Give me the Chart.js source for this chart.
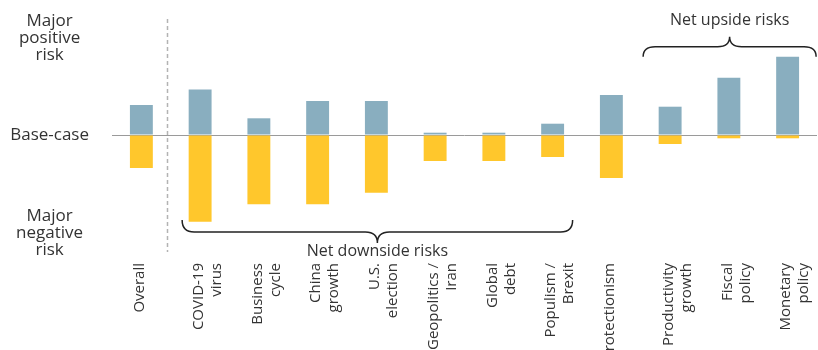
<!DOCTYPE html>
<html>
<head>
<meta charset="utf-8">
<script src="https://cdn.jsdelivr.net/npm/chart.js@4/dist/chart.umd.min.js"></script>
<style>
  html, body { margin: 0; padding: 0; background: #ffffff; }
  #wrap { width: 818px; height: 350px; position: relative; }
</style>
</head>
<body>
<div id="wrap"><canvas id="c" width="818" height="350"></canvas></div>
<script>
const categories = [
  "Overall",
  ["COVID-19", "virus"],
  ["Business", "cycle"],
  ["China", "growth"],
  ["U.S.", "election"],
  ["Geopolitics /", "Iran"],
  ["Global", "debt"],
  ["Populism /", "Brexit"],
  "Protectionism",
  ["Productivity", "growth"],
  ["Fiscal", "policy"],
  ["Monetary", "policy"]
];
const upsideRisk   = [30, 45.5, 16.7, 34, 34, 2.3, 2.3, 11.3, 40, 28.3, 57.3, 78.3];
const downsideRisk = [-33, -86.7, -69.3, -69.3, -57.7, -26, -26, -22, -43, -9, -3.3, -3.3];
const yTickValues = [97, 0, -98];
const yTickLabels = [["Major", "positive", "risk"], "Base-case", ["Major", "negative", "risk"]];
const downsideGroupLabel = "Net downside risks";
const upsideGroupLabel = "Net upside risks";

const FONT = "'Open Sans', 'Noto Sans', sans-serif";
const TEXT = "#333333";

const annotations = {
  id: 'annotations',
  afterDatasetsDraw(chart) {
    const ctx = chart.ctx;
    const xs = chart.scales.x, ys = chart.scales.y;
    ctx.save();
    // dashed separator
    const dx = Math.round(xs.getPixelForValue(0.43)) + 0.5;
    ctx.strokeStyle = '#b3b3b3';
    ctx.lineWidth = 1.5;
    ctx.setLineDash([4, 3]);
    ctx.beginPath();
    ctx.moveTo(dx, ys.getPixelForValue(116));
    ctx.lineTo(dx, ys.getPixelForValue(-117));
    ctx.stroke();
    ctx.setLineDash([]);

    function brace(x1, x2, yLine, yEnd, yTip) {
      const cx = (x1 + x2) / 2;
      const r = 12;
      ctx.beginPath();
      ctx.moveTo(x1, yEnd);
      ctx.quadraticCurveTo(x1, yLine, x1 + r, yLine);
      ctx.lineTo(cx - r, yLine);
      ctx.quadraticCurveTo(cx, yLine, cx, yTip);
      ctx.quadraticCurveTo(cx, yLine, cx + r, yLine);
      ctx.lineTo(x2 - r, yLine);
      ctx.quadraticCurveTo(x2, yLine, x2, yEnd);
      ctx.stroke();
    }
    ctx.strokeStyle = '#222222';
    ctx.lineWidth = 1.5;
    // downside brace
    const dl = xs.getPixelForValue(1) - 18, dr = xs.getPixelForValue(7) + 20;
    brace(dl, dr, ys.getPixelForValue(-97), ys.getPixelForValue(-85), ys.getPixelForValue(-108));
    // upside brace
    const ul = xs.getPixelForValue(9) - 27, ur = xs.getPixelForValue(11) + 28.5;
    brace(ul, ur, ys.getPixelForValue(88.3), ys.getPixelForValue(78.3), ys.getPixelForValue(98.3));

    ctx.fillStyle = TEXT;
    ctx.font = "16px " + FONT;
    ctx.textAlign = 'center';
    ctx.textBaseline = 'middle';
    ctx.fillText(downsideGroupLabel, (dl + dr) / 2, ys.getPixelForValue(-116.5));
    ctx.fillText(upsideGroupLabel, (ul + ur) / 2, ys.getPixelForValue(114.3));
    ctx.restore();
  }
};

new Chart(document.getElementById('c'), {
  type: 'bar',
  data: {
    labels: categories,
    datasets: [
      { label: 'Upside', data: upsideRisk, backgroundColor: '#89aebf', borderWidth: 0 },
      { label: 'Downside', data: downsideRisk, backgroundColor: '#ffc72c', borderWidth: 0 }
    ]
  },
  options: {
    responsive: false,
    animation: false,
    devicePixelRatio: 1,
    layout: { padding: { top: 10, right: 1, left: 0, bottom: 0 } },
    plugins: { legend: { display: false }, tooltip: { enabled: false } },
    datasets: { bar: { barPercentage: 0.39, categoryPercentage: 1 } },
    scales: {
      x: {
        stacked: true,
        grid: { display: false, drawTicks: false },
        border: { display: false },
        ticks: {
          autoSkip: false,
          maxRotation: 90,
          minRotation: 90,
          padding: 13,
          labelOffset: -1.5,
          color: TEXT,
          font: { family: FONT, size: 15, lineHeight: 1.2 }
        },
        afterFit(scale) { scale.height = 100; scale.paddingLeft = 0; scale.paddingRight = 0; }
      },
      y: {
        stacked: true,
        min: -115,
        max: 125,
        grid: {
          drawTicks: false,
          lineWidth: 1,
          color: (c) => (c.tick && c.tick.value === 0) ? '#9a9a9a' : 'rgba(0,0,0,0)'
        },
        border: { display: false },
        afterBuildTicks(scale) { scale.ticks = yTickValues.map(v => ({ value: v })); },
        ticks: {
          crossAlign: 'center',
          padding: 23,
          color: TEXT,
          font: { family: FONT, size: 17, lineHeight: 1.0 },
          callback: (v) => { const i = yTickValues.indexOf(v); return i >= 0 ? yTickLabels[i] : ''; }
        },
        afterFit(scale) { scale.width = 112; scale.paddingTop = 0; scale.paddingBottom = 0; }
      }
    }
  },
  plugins: [annotations]
});
</script>
</body>
</html>
